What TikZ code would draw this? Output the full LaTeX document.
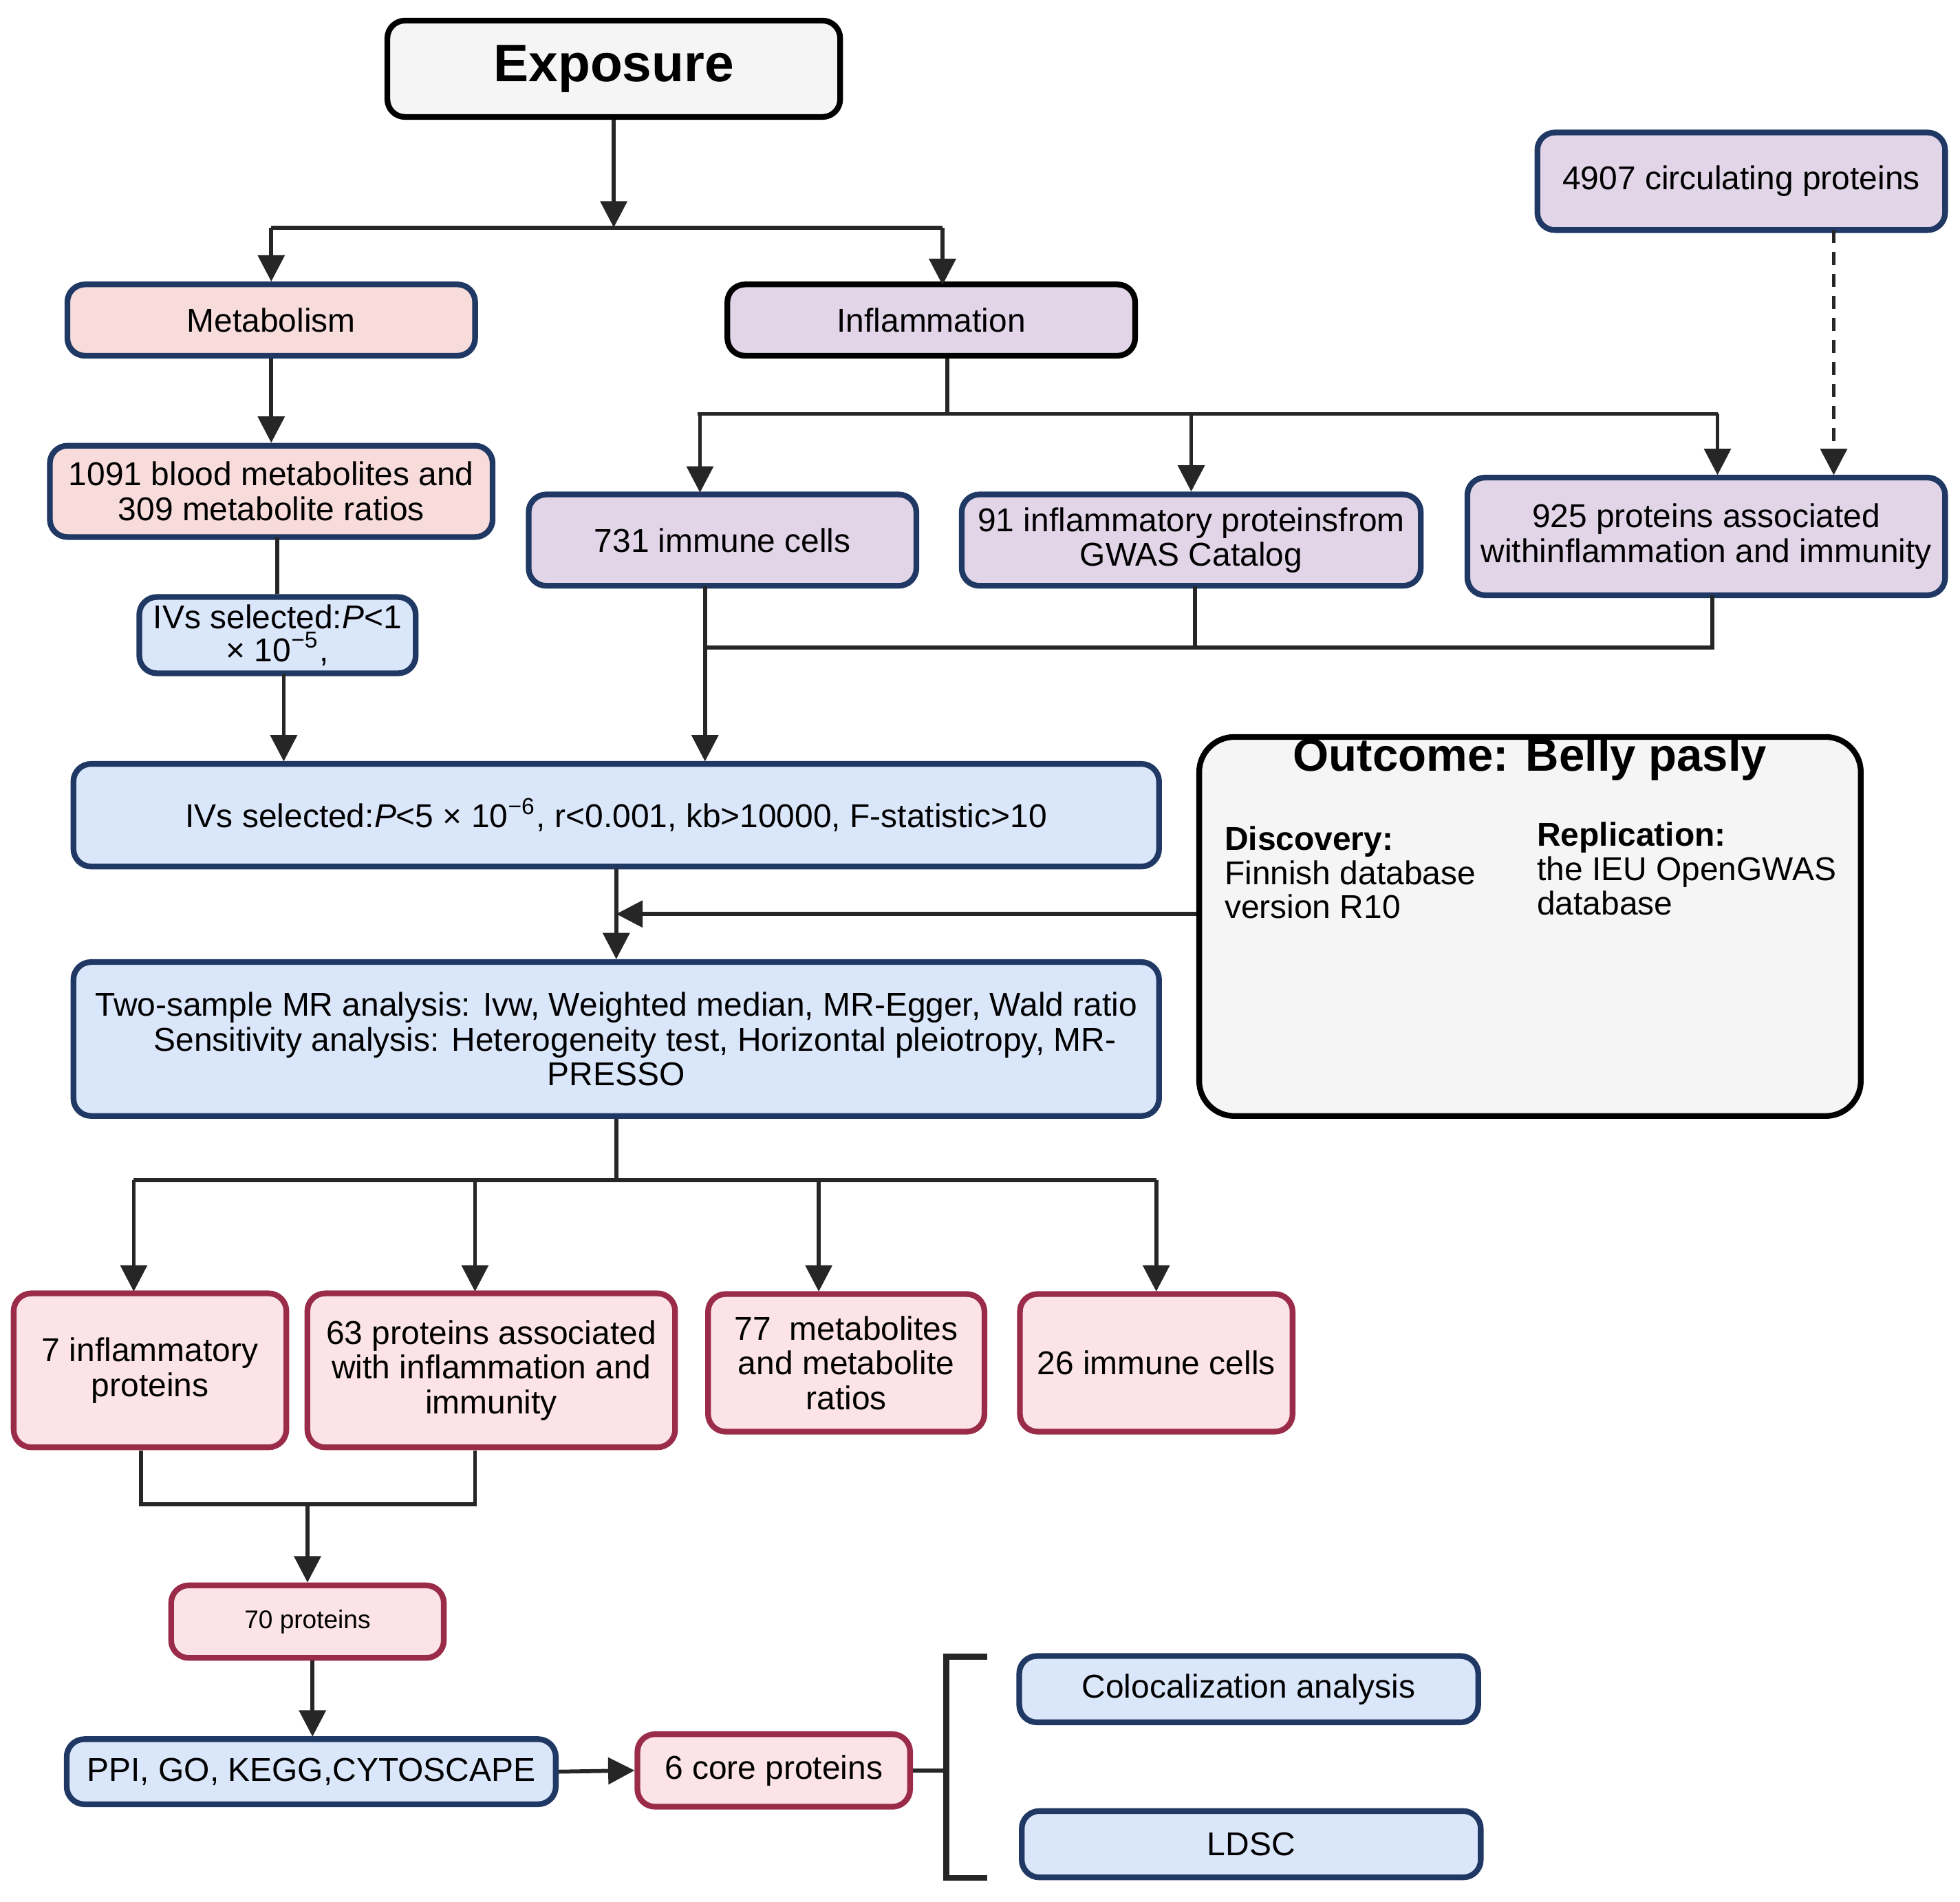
\documentclass[tikz,border=0pt]{standalone}
\usepackage{fontspec}
\setmainfont{Liberation Sans}
\usetikzlibrary{arrows.meta}
\definecolor{pinkfill}{HTML}{F8DCDC}
\definecolor{lavfill}{HTML}{E2D5E8}
\definecolor{bluefill}{HTML}{DAE6FA}
\definecolor{rosefill}{HTML}{FBE3E8}
\definecolor{navyline}{HTML}{1F3864}
\definecolor{wineline}{HTML}{9A2C4A}
\tikzset{
  box/.style={rectangle, rounded corners=4pt, line width=1.3pt, align=center, inner sep=1pt, font=\fontsize{7.5}{7.9}\selectfont},
  pinkbox/.style={box, fill=pinkfill, draw=navyline},
  lavbox/.style={box, fill=lavfill, draw=navyline},
  bluebox/.style={box, fill=bluefill, draw=navyline},
  redbox/.style={box, fill=rosefill, draw=wineline},
  line/.style={line width=0.9pt, draw=black!85},
  arrow/.style={line, -{Triangle[width=6pt,length=6pt]}}
}
\begin{document}
\begin{tikzpicture}[x=0.01cm,y=-0.01cm]
\useasboundingbox (0,0) rectangle (1568,1521);
% nodes
\node (exp) [box, fill=black!4, draw=black, minimum width=3.62cm, minimum height=0.77cm, font=\fontsize{12}{13}\selectfont\bfseries] at (491,55) {Exposure};
\node (meta) [pinkbox, minimum width=3.26cm, minimum height=0.57cm] at (217,256) {Metabolism};
\node (infl) [box, fill=lavfill, draw=black, minimum width=3.26cm, minimum height=0.57cm] at (745,256) {Inflammation};
\node (circ) [lavbox, minimum width=3.26cm, minimum height=0.78cm] at (1393,145) {4907 circulating proteins};
\node (blood) [pinkbox, minimum width=3.54cm, minimum height=0.73cm] at (217,393) {1091 blood metabolites and\\309 metabolite ratios};
\node (ivs1) [bluebox, minimum width=2.21cm, minimum height=0.61cm, font=\fontsize{7.5}{7.5}\selectfont] at (222,508) {IVs selected:\textit{P}<1\\× 10\textsuperscript{−5},};
\node (cells) [lavbox, minimum width=3.10cm, minimum height=0.73cm] at (578,432) {731 immune cells};
\node (inflp) [lavbox, minimum width=3.67cm, minimum height=0.73cm] at (953,432) {91 inflammatory proteinsfrom\\GWAS Catalog};
\node (immp) [lavbox, minimum width=3.82cm, minimum height=0.94cm] at (1365,429) {925 proteins associated\\withinflammation and immunity};
\node (ivs2) [bluebox, minimum width=8.68cm, minimum height=0.82cm] at (493,652) {IVs selected:\textit{P}<5 × 10\textsuperscript{−6}, r<0.001, kb>10000, F-statistic>10};
\node (out) [box, fill=black!4, draw=black, rounded corners=8pt, minimum width=5.29cm, minimum height=3.03cm] at (1224,741) {};
\node (outt) [font=\fontsize{10.5}{11}\selectfont\bfseries, inner sep=0pt] at (1224,607) {Outcome: Belly pasly};
\node (disc) [anchor=north west, align=left, inner sep=0pt, font=\fontsize{7.5}{7.8}\selectfont] at (979,660) {\textbf{Discovery:}\\Finnish database\\version R10};
\node (repl) [anchor=north west, align=left, inner sep=0pt, font=\fontsize{7.5}{7.8}\selectfont] at (1229,657) {\textbf{Replication:}\\the IEU OpenGWAS\\database};
\node (mr) [bluebox, minimum width=8.68cm, minimum height=1.23cm] at (493,831) {Two-sample MR analysis: Ivw, Weighted median, MR-Egger, Wald ratio\\\hspace*{0.3cm}Sensitivity analysis: Heterogeneity test, Horizontal pleiotropy, MR-\\PRESSO};
\node (r7) [redbox, minimum width=2.18cm, minimum height=1.23cm] at (120,1096) {7 inflammatory\\proteins};
\node (r63) [redbox, minimum width=2.94cm, minimum height=1.23cm] at (393,1096) {63 proteins associated\\with inflammation and\\immunity};
\node (r77) [redbox, minimum width=2.21cm, minimum height=1.10cm] at (677,1090) {77\ \ metabolites\\and metabolite\\ratios};
\node (r26) [redbox, minimum width=2.18cm, minimum height=1.10cm] at (925,1090) {26 immune cells};
\node (p70) [redbox, minimum width=2.18cm, minimum height=0.58cm, font=\fontsize{5.8}{6}\selectfont] at (246,1297) {70 proteins};
\node (ppi) [bluebox, minimum width=3.91cm, minimum height=0.52cm] at (249,1417) {PPI, GO, KEGG,CYTOSCAPE};
\node (core) [redbox, minimum width=2.18cm, minimum height=0.58cm] at (619,1416) {6 core proteins};
\node (coloc) [bluebox, minimum width=3.67cm, minimum height=0.53cm] at (999,1351) {Colocalization analysis};
\node (ldsc) [bluebox, minimum width=3.67cm, minimum height=0.53cm] at (1001,1475) {LDSC};
% coordinates
\coordinate (e1) at (491,182);
\coordinate (i1) at (758,331);
\coordinate (j1) at (564,518);
\coordinate (j2) at (493,731);
\coordinate (m1) at (493,944);
\coordinate (s1) at (246,1203);
\coordinate (b1) at (757,1416);
% connectors
\draw [arrow] (exp) -- (e1);
\draw [line] (217,182) -- (754,182);
\draw [arrow] (217,182) -- (meta);
\draw [arrow] (754,182) -- (754,228);
\draw [arrow] (meta) -- (blood);
\draw [line] (222,430) -- (ivs1.north);
\draw [arrow] (227,539) -- (227,609);
\draw [line] (infl.south -| i1) -- (i1);
\draw [line] (558,331) -- (1374,331);
\draw [arrow] (560,331) -- (560,394);
\draw [arrow] (953,331) -- (inflp.north);
\draw [arrow] (1374,331) -- (1374,380);
\draw [arrow, dash pattern=on 3pt off 2pt] (1467,184) -- (1467,380);
\draw [line] (956,469) -- (956,518);
\draw [line] (1370,476) -- (1370,518) -- (j1);
\draw [arrow] (564,469) -- (564,609);
\draw [arrow] (ivs2.south) -- (mr.north);
\draw [arrow] (out.west |- j2) -- (j2);
\draw [line] (mr.south) -- (m1);
\draw [line] (107,944) -- (925,944);
\draw [arrow] (107,944) -- (107,1033);
\draw [arrow] (380,944) -- (380,1033);
\draw [arrow] (655,944) -- (655,1033);
\draw [arrow] (925,944) -- (925,1033);
\draw [line] (113,1160) -- (113,1203) -- (380,1203) -- (380,1160);
\draw [arrow] (s1) -- (p70.north);
\draw [arrow] (250,1328) -- (250,1389);
\draw [arrow] (ppi.east) -- (core.west);
\draw [line] (core.east) -- (b1);
\draw [line, line width=1.3pt] (790,1325) -- (757,1325) -- (757,1502) -- (790,1502);
\end{tikzpicture}
\end{document}
